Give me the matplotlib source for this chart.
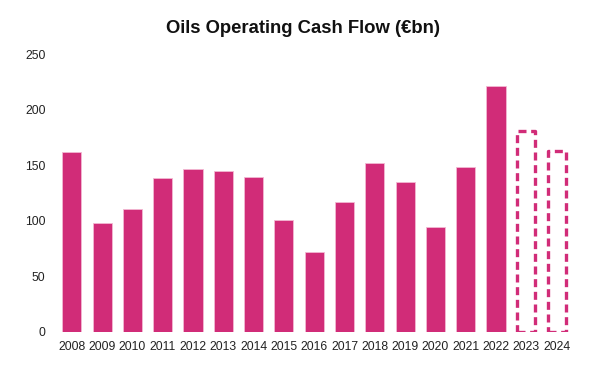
import matplotlib
matplotlib.use('Agg')
import matplotlib.pyplot as plt

plt.rcParams['font.family'] = ['Liberation Sans', 'DejaVu Sans']

years = ['2008', '2009', '2010', '2011', '2012', '2013', '2014', '2015', '2016',
         '2017', '2018', '2019', '2020', '2021', '2022', '2023', '2024']
cash_flow = [162, 97.5, 110, 138, 146, 144.5, 139, 100.5, 71.5,
             117, 151.5, 135, 94, 148.5, 221, 181, 162.5]
is_forecast = [False] * 15 + [True, True]

pink = '#D12C78'

fig = plt.figure(figsize=(6.04, 3.74), dpi=100)
ax = fig.add_axes([0.0937, 0.1136, 0.853, 0.742])

for i, (yr, v, fc) in enumerate(zip(years, cash_flow, is_forecast)):
    if fc:
        ax.bar(i, v, width=0.6, facecolor='white', edgecolor=pink,
               linewidth=2.4, linestyle=(0, (2.4, 1.4)), joinstyle='round')
    else:
        ax.bar(i, v, width=0.63, color=pink, edgecolor='#f2b8d2', linewidth=0.6)

ax.set_xlim(-0.5, len(years) - 0.5)
ax.set_ylim(0, 250)
ax.set_xticks(range(len(years)))
ax.set_xticklabels(years)
ax.set_yticks([0, 50, 100, 150, 200, 250])
ax.tick_params(axis='both', length=0, labelsize=8.8, colors='#222222')
ax.tick_params(axis='x', pad=7)
ax.tick_params(axis='y', pad=8)
for s in ax.spines.values():
    s.set_visible(False)

fig.suptitle('Oils Operating Cash Flow (€bn)', fontsize=13.3, fontweight='bold',
             color='#111111', x=0.502, y=0.947)

plt.savefig('out.png', dpi=100)
